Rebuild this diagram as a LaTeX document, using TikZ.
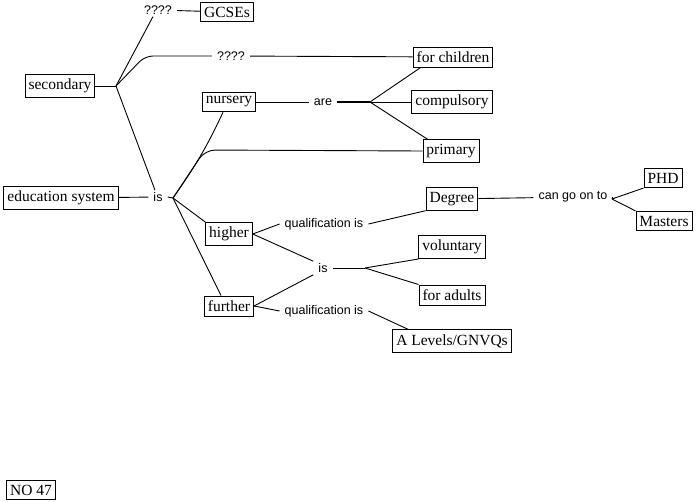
\documentclass[tikz,border=0pt]{standalone}
\usepackage{fontspec}
\setmainfont{Liberation Serif}
\newfontfamily\lblfont{Liberation Sans}
\tikzset{
  box/.style={draw,line width=0.9pt,inner xsep=3.5pt,inner ysep=4.5pt,font=\fontsize{15.5}{18}\selectfont},
  lbl/.style={inner xsep=5pt,inner ysep=2pt,font=\lblfont\fontsize{12.5}{15}\selectfont},
  link/.style={line width=0.9pt}
}
\begin{document}
\begin{tikzpicture}[x=1pt,y=-1pt]
\path[use as bounding box] (0,0) rectangle (696,501);
% concepts
\node[box] (gcse) at (227,12) {GCSEs};
\node[box] (child) at (453,57) {for children};
\node[box] (sec) at (60,86) {secondary};
\node[box] (nurs) at (229,102) {nursery};
\node[box] (comp) at (452,102) {compulsory};
\node[box] (prim) at (451,151) {primary};
\node[box] (edu) at (61,198) {education system};
\node[box] (deg) at (452,199) {Degree};
\node[box] (phd) at (663,178) {PHD};
\node[box] (mast) at (664,221) {Masters};
\node[box] (high) at (229,234) {higher};
\node[box] (vol) at (452,247) {voluntary};
\node[box] (adult) at (452,295) {for adults};
\node[box] (furth) at (229,306) {further};
\node[box] (alev) at (452,341) {A Levels/GNVQs};
\node[box] (no) at (31,490) {NO 47};
% linking phrases
\node[lbl] (q1) at (158,10) {????};
\node[lbl] (q2) at (231,56) {????};
\node[lbl] (are) at (323,102) {are};
\node[lbl] (is1) at (158,197) {is};
\node[lbl] (cango) at (573,197) {can go on to};
\node[lbl] (qual1) at (324,224) {qualification is};
\node[lbl] (is2) at (323,268) {is};
\node[lbl] (qual2) at (324,311) {qualification is};
% forks
\coordinate (secF) at (116,86);
\coordinate (secB) at (145,56);
\coordinate (isF) at (173,198);
\coordinate (isB) at (205,150);
\coordinate (areF) at (370,102);
\coordinate (is2F) at (365,268);
\coordinate (cangoF) at (612,199);
% secondary
\draw[link] (sec) -- (secF);
\draw[link] (secF) -- ([xshift=-5pt]q1.south);
\draw[link,rounded corners=8pt] (secF) -- (secB) -- (q2.west);
\draw[link] (secF) -- ([xshift=-3pt]is1.north);
\draw[link] (q1) -- (gcse);
\draw[link] (q2) -- (child);
% education system is
\draw[link] (edu) -- (is1);
\draw[link] (is1.east) -- (isF);
\draw[link] (isF) to[out=55,in=-115] ([xshift=-6pt]nurs.south);
\draw[link,rounded corners=10pt] (isF) -- (isB) -- (prim.west);
\draw[link] (isF) -- (high.north west);
\draw[link] (isF) -- ([xshift=-8pt]furth.north);
% nursery are
\draw[link] (nurs) -- (are);
\draw[link,line width=1.6pt] (are.east) -- (areF);
\draw[link] (areF) -- ([xshift=8pt]child.south west);
\draw[link] (areF) -- (comp.west);
\draw[link] (areF) -- ([xshift=5pt]prim.north west);
% higher / further
\draw[link] (high.east) -- (qual1.west);
\draw[link] (qual1.east) -- (deg.south west);
\draw[link] (high.east) -- (is2.north west);
\draw[link] (furth.east) -- (is2.south west);
\draw[link] (furth.east) -- (qual2.west);
\draw[link] (qual2.east) -- ([xshift=16pt]alev.north west);
\draw[link] (is2.east) -- (is2F);
\draw[link] (is2F) -- (vol.south west);
\draw[link] (is2F) -- (adult.north west);
% degree
\draw[link] (deg) -- (cango);
\draw[link] (cango.east) -- (cangoF);
\draw[link] (cangoF) -- (phd.south west);
\draw[link] (cangoF) -- (mast.north west);
\end{tikzpicture}
\end{document}
